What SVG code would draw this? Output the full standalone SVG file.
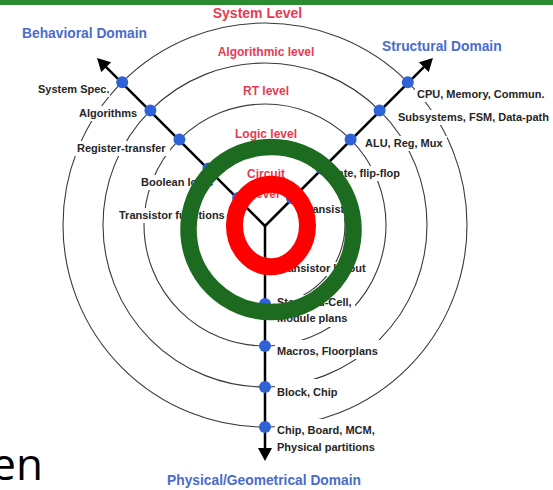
<svg xmlns="http://www.w3.org/2000/svg" width="553" height="490" viewBox="0 0 553 490">
<style>
.ring{fill:none;stroke:#3a3a3a;stroke-width:1.1}
.bg{fill:#ffffff}
.lbl{font-family:"Liberation Sans",Arial,sans-serif;font-weight:bold;font-size:11px;fill:#262626}
.lvl{font-family:"Liberation Sans",Arial,sans-serif;font-weight:bold;font-size:12px;fill:#E63C52;text-anchor:middle}
.dom{font-family:"Liberation Sans",Arial,sans-serif;font-weight:bold;font-size:13.8px;fill:#4A6CCB}
.dot{fill:#2F62D6}
.axis{stroke:#000;stroke-width:2.5;fill:none;marker-end:url(#arr)}
</style>
<defs>
<marker id="arr" viewBox="0 0 13 14" markerWidth="13" markerHeight="14" refX="5" refY="7" orient="auto" markerUnits="userSpaceOnUse">
<path d="M0,0 L13,7 L0,14 z" fill="#000"/>
</marker>
</defs>
<rect width="553" height="490" fill="#ffffff"/>
<rect x="0" y="0" width="553" height="5" fill="#2A8C2E"/>

<g id="circles">
<circle class="ring" cx="265" cy="225" r="38"/>
<circle class="ring" cx="265" cy="225" r="80"/>
<circle class="ring" cx="265" cy="225" r="121"/>
<circle class="ring" cx="265" cy="225" r="162"/>
<circle class="ring" cx="265" cy="225" r="202"/>
</g>

<g id="label-backgrounds">
<rect class="bg" x="36" y="83" width="74" height="14"/>
<rect class="bg" x="77" y="106" width="63" height="15"/>
<rect class="bg" x="75" y="141" width="95" height="15"/>
<rect class="bg" x="139" y="175" width="76" height="15"/>
<rect class="bg" x="117" y="208" width="115" height="15"/>
<rect class="bg" x="415" y="87" width="138" height="15"/>
<rect class="bg" x="396" y="110" width="157" height="15"/>
<rect class="bg" x="363" y="136" width="84" height="15"/>
<rect class="bg" x="327" y="166" width="83" height="15"/>
<rect class="bg" x="300" y="202" width="58" height="15"/>
<rect class="bg" x="275" y="262" width="94" height="14"/>
<rect class="bg" x="275" y="295" width="80" height="32"/>
<rect class="bg" x="275" y="340" width="110" height="19"/>
<rect class="bg" x="275" y="379" width="65" height="21"/>
<rect class="bg" x="275" y="419" width="106" height="37"/>
</g>

<g id="connectors">
<path class="axis" d="M265,226 L102.7,63.7"/>
<path class="axis" d="M265,226 L427.3,63.7"/>
<path class="axis" d="M265,226 L265,453"/>
</g>

<g id="behavioral">
<text class="dom" x="22" y="38">Behavioral Domain</text>
<g id="b-system"><circle class="dot" cx="122.2" cy="82.2" r="6"/><text class="lbl" x="38" y="93">System Spec.</text></g>
<g id="b-algo"><circle class="dot" cx="150.4" cy="110.4" r="6"/><text class="lbl" x="79" y="117">Algorithms</text></g>
<g id="b-rt"><circle class="dot" cx="179.4" cy="139.4" r="6"/><text class="lbl" x="77" y="152">Register-transfer</text></g>
<g id="b-logic"><circle class="dot" cx="208.4" cy="168.4" r="6"/><text class="lbl" x="141" y="186">Boolean logic</text></g>
<g id="b-circuit"><circle class="dot" cx="238.1" cy="198.1" r="6"/><text class="lbl" x="119" y="219">Transistor functions</text></g>
</g>

<g id="structural">
<text class="dom" x="382" y="51">Structural Domain</text>
<g id="s-system"><circle class="dot" cx="407.8" cy="82.2" r="6"/><text class="lbl" x="417" y="98">CPU, Memory, Commun.</text></g>
<g id="s-algo"><circle class="dot" cx="379.6" cy="110.4" r="6"/><text class="lbl" x="398" y="121">Subsystems, FSM, Data-path</text></g>
<g id="s-rt"><circle class="dot" cx="350.6" cy="139.4" r="6"/><text class="lbl" x="365" y="147">ALU, Reg, Mux</text></g>
<g id="s-logic"><circle class="dot" cx="321.6" cy="168.4" r="6"/><text class="lbl" x="329" y="177">Gate, flip-flop</text></g>
<g id="s-circuit"><circle class="dot" cx="291.9" cy="198.1" r="6"/><text class="lbl" x="302" y="213">Transistor</text></g>
</g>

<g id="physical">
<text class="dom" x="167" y="484.5">Physical/Geometrical Domain</text>
<g id="p-circuit"><circle class="dot" cx="265" cy="263" r="6"/><text class="lbl" x="277" y="272">Transistor layout</text></g>
<g id="p-logic"><circle class="dot" cx="265" cy="304" r="6"/><text class="lbl" x="277" y="305.5">Standard-Cell,</text><text class="lbl" x="277" y="322">Module plans</text></g>
<g id="p-rt"><circle class="dot" cx="265" cy="346" r="6"/><text class="lbl" x="277" y="354.5">Macros, Floorplans</text></g>
<g id="p-algo"><circle class="dot" cx="265" cy="387" r="6"/><text class="lbl" x="277" y="395.5">Block, Chip</text></g>
<g id="p-system"><circle class="dot" cx="265" cy="427" r="6"/><text class="lbl" x="277" y="434">Chip, Board, MCM,</text><text class="lbl" x="277" y="451">Physical partitions</text></g>
</g>

<g id="levels">
<text class="lvl" x="257.5" y="17.5" style="font-size:14px">System Level</text>
<text class="lvl" x="266" y="56">Algorithmic level</text>
<text class="lvl" x="266" y="94.5">RT level</text>
<text class="lvl" x="266" y="137.5">Logic level</text>
<text class="lvl" x="266" y="177.5">Circuit</text>
<text class="lvl" x="266" y="198">level</text>
</g>

<g id="highlights">
<circle cx="271" cy="229.5" r="82.5" fill="none" stroke="#1C6B20" stroke-width="16.5"/>
<ellipse cx="271" cy="225.5" rx="36.5" ry="41.2" fill="none" stroke="#FF0000" stroke-width="17"/>
</g>

<text x="43" y="480" font-family="'Open Sans','Noto Sans',sans-serif" font-size="44" fill="#000" text-anchor="end">en</text>
</svg>
